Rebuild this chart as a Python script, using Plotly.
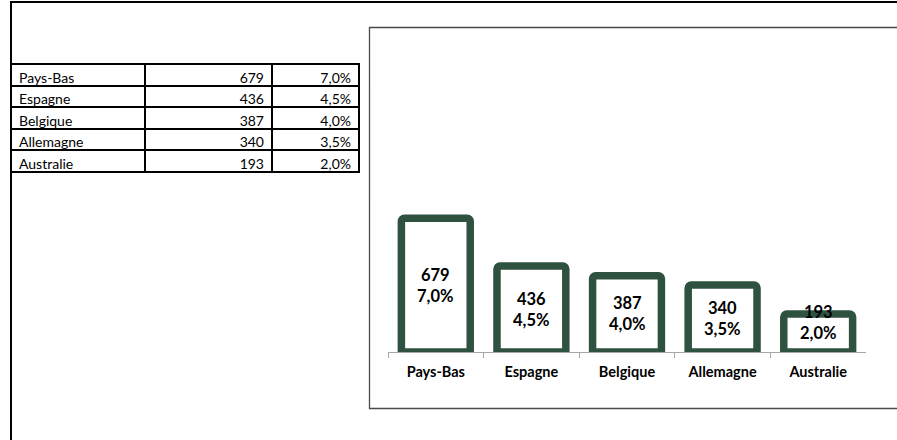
import plotly.graph_objects as go

countries = ["Pays-Bas", "Espagne", "Belgique", "Allemagne", "Australie"]
values = [679, 436, 387, 340, 193]
shares = ["7,0%", "4,5%", "4,0%", "3,5%", "2,0%"]

W, H = 897, 440
GREEN = "#2F5240"
FONT = "Lato"
Y_MAX = 1584
PLOT_TOP, PLOT_BOTTOM = 40, 352

def px(x):
    return x / W

def py(y):
    return 1 - y / H

units_per_px = Y_MAX / (PLOT_BOTTOM - PLOT_TOP)
min_label_center = 30 * units_per_px  # labels kept clear of the baseline

fig = go.Figure()

# table (first row used as header so all rows look alike)
fig.add_trace(go.Table(
    domain=dict(x=[px(11), px(359)], y=[py(200), py(64)]),
    columnwidth=[134, 127, 87],
    header=dict(
        values=[countries[0], str(values[0]), shares[0]],
        align=["left", "right", "right"],
        height=21.6,
        line=dict(color="black", width=2),
        fill=dict(color="white"),
        font=dict(family=FONT, size=14, color="black"),
    ),
    cells=dict(
        values=[countries[1:], [str(v) for v in values[1:]], shares[1:]],
        align=["left", "right", "right"],
        height=21.6,
        line=dict(color="black", width=2),
        fill=dict(color="white"),
        font=dict(family=FONT, size=14, color="black"),
    ),
))

fig.add_trace(go.Bar(
    x=countries,
    y=values,
    width=0.72,
    marker=dict(color="white", line=dict(color=GREEN, width=7.5), cornerradius=3),
    hoverinfo="skip",
))

for c, v, s in zip(countries, values, shares):
    fig.add_annotation(
        x=c, y=max(v / 2, min_label_center), xref="x", yref="y",
        text=f"{v}<br>{s}", showarrow=False,
        font=dict(family=FONT, size=16.5, color="black", weight="bold"),
        align="center", yanchor="middle",
    )

# outer frame lines and chart box
fig.add_shape(type="line", xref="paper", yref="paper", x0=px(11), x1=1.01, y0=py(2), y1=py(2),
              line=dict(color="black", width=2))
fig.add_shape(type="line", xref="paper", yref="paper", x0=px(11), x1=px(11), y0=py(1), y1=-0.01,
              line=dict(color="black", width=2))
fig.add_shape(type="rect", xref="paper", yref="paper", x0=px(369.5), x1=1.02, y0=py(408.5), y1=py(27.5),
              line=dict(color="#4a4a4a", width=1.3), layer="below")

fig.update_layout(
    width=W, height=H,
    margin=dict(l=0, r=0, t=0, b=0),
    paper_bgcolor="white",
    plot_bgcolor="rgba(0,0,0,0)",
    showlegend=False,
    xaxis=dict(
        domain=[px(388), px(866)],
        anchor="y",
        showline=True, linecolor="#a6a6a6", linewidth=1.3,
        ticks="outside", tickson="boundaries", ticklen=5, tickcolor="#a6a6a6", tickwidth=1.3,
        ticklabelstandoff=6,
        showgrid=False, zeroline=False,
        tickfont=dict(family=FONT, size=14.5, color="black", weight="bold"),
        fixedrange=True,
    ),
    yaxis=dict(
        domain=[py(PLOT_BOTTOM), py(PLOT_TOP)],
        range=[0, Y_MAX],
        visible=False, showgrid=False, zeroline=False,
        fixedrange=True,
    ),
)

fig.write_html(
    "out.html",
    config={"displayModeBar": False},
    post_script="document.body.style.margin='0';document.body.style.overflow='hidden';",
)
